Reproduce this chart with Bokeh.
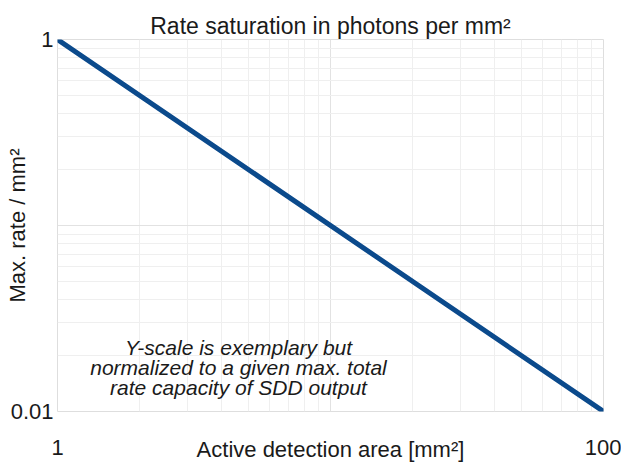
from bokeh.plotting import figure
from bokeh.models import FixedTicker, CustomJSTickFormatter, Label
from bokeh.embed import file_html
from bokeh.resources import INLINE

# data
area = [1, 100]          # active detection area [mm²]
rate = [1, 0.01]         # max. rate / mm² (normalized)

x_ticks = [1, 100]
y_ticks = [0.01, 1]
x_grid_major = [1, 10, 100]
x_grid_minor = [2, 3, 4, 5, 6, 7, 8, 9, 20, 30, 40, 50, 60, 70, 80, 90]
y_grid_major = [0.01, 0.1, 1]
y_grid_minor = [0.02, 0.03, 0.04, 0.05, 0.06, 0.07, 0.08, 0.09,
                0.2, 0.3, 0.4, 0.5, 0.6, 0.7, 0.8, 0.9]

title_text = "Rate saturation in photons per mm²"
x_label = "Active detection area [mm²]"
y_label = "Max. rate / mm²"
note_lines = ["Y-scale is exemplary but",
              "normalized to a given max. total",
              "rate capacity of SDD output"]

FONT = "Liberation Sans"
TXT = "#1a1a1a"

p = figure(width=621, height=468, x_axis_type="log", y_axis_type="log",
           x_range=(1, 100), y_range=(0.01, 1),
           output_backend="svg", toolbar_location=None,
           min_border_left=57, min_border_right=18,
           min_border_top=39, min_border_bottom=57)

p.background_fill_color = "white"
p.border_fill_color = "white"
p.outline_line_color = "#dedede"

p.title.text = title_text
p.title.text_font = FONT
p.title.text_font_size = "23px"
p.title.text_font_style = "normal"
p.title.text_color = TXT
p.title.align = "center"
p.title.standoff = 2

fmt = CustomJSTickFormatter(code="return tick.toString();")

for ax, ticks, lab in ((p.xaxis[0], x_ticks, x_label), (p.yaxis[0], y_ticks, y_label)):
    ax.ticker = FixedTicker(ticks=ticks)
    ax.formatter = fmt
    ax.axis_line_color = None
    ax.major_tick_line_color = None
    ax.minor_tick_line_color = None
    ax.major_tick_out = 0
    ax.major_tick_in = 0
    ax.minor_tick_out = 0
    ax.minor_tick_in = 0
    ax.major_label_text_font = FONT
    ax.major_label_text_font_size = "22px"
    ax.major_label_text_color = TXT
    ax.axis_label = lab
    ax.axis_label_text_font = FONT
    ax.axis_label_text_font_size = "22px"
    ax.axis_label_text_font_style = "normal"
    ax.axis_label_text_color = TXT

p.xaxis.major_label_standoff = 28
p.xaxis.axis_label_standoff = -21
p.yaxis.major_label_standoff = 4
p.yaxis.axis_label_standoff = -22

p.xgrid.ticker = FixedTicker(ticks=x_grid_major, minor_ticks=x_grid_minor)
p.ygrid.ticker = FixedTicker(ticks=y_grid_major, minor_ticks=y_grid_minor)
for g in (p.xgrid[0], p.ygrid[0]):
    g.grid_line_color = "#e2e2e2"
    g.grid_line_width = 1
    g.minor_grid_line_color = "#efefef"
    g.minor_grid_line_width = 1

p.line(area, rate, line_width=5, line_color="#0b4a8c", line_cap="round")

for i, txt in enumerate(note_lines):
    p.add_layout(Label(x=181, y=64 - 20 * i, x_units="screen", y_units="screen",
                       text=txt, text_align="center", text_baseline="alphabetic",
                       text_font=FONT, text_font_size="21px",
                       text_font_style="italic", text_color=TXT))

open("out.html", "w").write(file_html(p, INLINE))
